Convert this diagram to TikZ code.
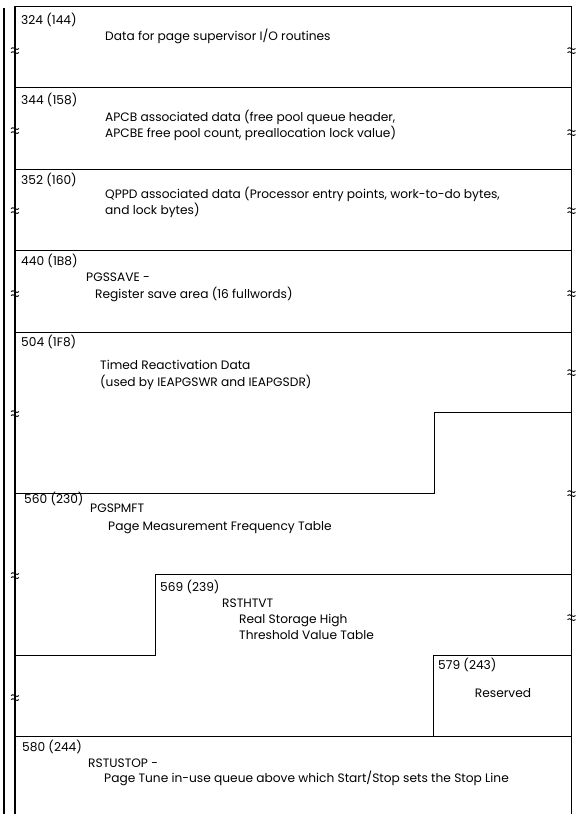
\documentclass[tikz,border=0pt]{standalone}
\usepackage{fontspec}
\setmainfont{Poppins}
\begin{document}
\begin{tikzpicture}[x=1pt,y=-1pt,
  rule/.style={line width=0.9pt},
  outer/.style={line width=2.8pt},
  inner/.style={line width=1.9pt},
  lbl/.style={anchor=base west,inner sep=0pt,font=\fontsize{12.2}{14}\selectfont},
  brk/.pic={\draw[line width=0.9pt] (-4,-1.4) .. controls (-1.8,-4.6) and (1.8,1.8) .. (4,-1.4);
            \draw[line width=0.9pt] (-4,2.6) .. controls (-1.8,-0.6) and (1.8,5.8) .. (4,2.6);}]
\useasboundingbox (0,0) rectangle (576,814);

% frame: double rule on the left, single heavy rule on the right
\draw[outer] (4,8) -- (4,814);
\draw[inner] (15,6) -- (15,814);
\draw[inner] (571.5,6) -- (571.5,814);
\draw[rule] (15,6.5) -- (571.5,6.5);

% field boundaries
\draw[rule] (15,87) -- (571,87);
\draw[rule] (15,169) -- (571,169);
\draw[rule] (15,250.5) -- (571,250.5);
\draw[rule] (15,332) -- (571,332);
\draw[rule] (571,412) -- (434,412) -- (434,493) -- (15,493);
\draw[rule] (571,574.5) -- (155,574.5) -- (155,655.5) -- (15,655.5);
\draw[rule] (571,655.5) -- (433.5,655.5) -- (433.5,736) ;
\draw[rule] (15,736) -- (571,736);

% break marks on the left rule
\foreach \y in {50,130,210,293,413,575,697}
  \pic at (15,\y) {brk};
% break marks on the right rule
\foreach \y in {50,132,210,293,372,493,617}
  \pic at (571.5,\y) {brk};

% offsets and field descriptions
\node[lbl] (o324) at (21,24) {324 (144)};
\node[lbl] (d324) at (105,40) {Data for page supervisor I/O routines};

\node[lbl] (o344) at (21,104) {344 (158)};
\node[lbl] (d344a) at (105,121) {APCB associated data (free pool queue header,};
\node[lbl] (d344b) at (105,137) {APCBE free pool count, preallocation lock value)};

\node[lbl] (o352) at (21,184) {352 (160)};
\node[lbl] (d352a) at (105,198) {QPPD associated data (Processor entry points, work-to-do bytes,};
\node[lbl] (d352b) at (105,214) {and lock bytes)};

\node[lbl] (o440) at (21,265) {440 (1B8)};
\node[lbl] (n440) at (86,281) {PGSSAVE -};
\node[lbl] (d440) at (95,298) {Register save area (16 fullwords)};

\node[lbl] (o504) at (21,346) {504 (1F8)};
\node[lbl] (d504a) at (100,369) {Timed Reactivation Data};
\node[lbl] (d504b) at (100,386) {(used by IEAPGSWR and IEAPGSDR)};

\node[lbl] (o560) at (24,503) {560 (230)};
\node[lbl] (n560) at (90,512) {PGSPMFT};
\node[lbl] (d560) at (108,530) {Page Measurement Frequency Table};

\node[lbl] (o569) at (160,591) {569 (239)};
\node[lbl] (n569) at (222,607) {RSTHTVT};
\node[lbl] (d569a) at (239,623) {Real Storage High};
\node[lbl] (d569b) at (239,639) {Threshold Value Table};

\node[lbl] (o579) at (438,669) {579 (243)};
\node[lbl,anchor=base] (d579) at (503,697) {Reserved};

\node[lbl] (o580) at (22,751) {580 (244)};
\node[lbl] (n580) at (88,767) {RSTUSTOP -};
\node[lbl] (d580) at (104,782) {Page Tune in-use queue above which Start/Stop sets the Stop Line};
\end{tikzpicture}
\end{document}
